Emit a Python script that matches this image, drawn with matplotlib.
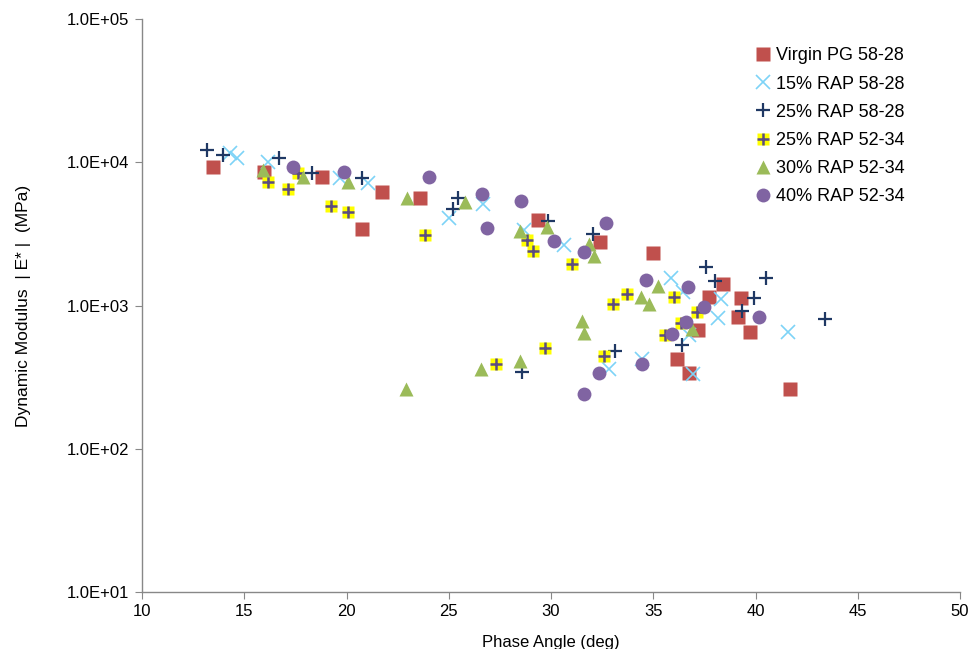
import matplotlib
matplotlib.use("Agg")
import matplotlib.pyplot as plt
from matplotlib.ticker import FixedLocator, FuncFormatter
import numpy as np

plt.rcParams['font.family'] = ['Liberation Sans', 'DejaVu Sans']

# phase angle (deg) and dynamic modulus |E*| (MPa) for each mix
virgin_x = [13.47, 15.97, 18.80, 21.74, 23.59, 20.76, 29.36, 32.40, 34.99,
            38.41, 37.73, 39.29, 39.14, 39.73, 37.19, 36.16, 36.75, 41.69]
virgin_y = [9270, 8550, 7890, 6200, 5630, 3420, 3950, 2775, 2326,
            1413, 1146, 1128, 831, 653, 674, 423, 338, 261]

rap15_x = [14.30, 14.65, 16.16, 19.68, 21.05, 25.01, 26.67, 28.68, 30.64,
           35.87, 36.45, 38.31, 38.17, 36.75, 32.84, 34.45, 36.94, 41.59]
rap15_y = [11600, 10700, 10040, 7760, 7160, 4080, 5110, 3365, 2645,
           1556, 1243, 1110, 818, 622, 360, 423, 333, 653]

rap25a_x = [13.18, 13.96, 16.70, 18.31, 20.76, 25.45, 25.21, 29.85, 32.05,
            33.13, 28.58, 36.41, 37.58, 38.02, 40.51, 39.93, 39.34, 43.40]
rap25a_y = [12180, 11240, 10700, 8410, 7760, 5630, 4716, 3890, 3157,
            481, 343, 530, 1857, 1483, 1556, 1128, 915, 805]

rap25b_x = [16.16, 17.14, 17.63, 19.24, 20.07, 23.84, 28.83, 29.12, 31.03,
            33.72, 33.03, 36.01, 37.14, 36.36, 35.57, 29.71, 27.31, 32.59]
rap25b_y = [7280, 6506, 8410, 4950, 4495, 3105, 2866, 2402, 1949,
            1203, 1024, 1146, 901, 755, 622, 505, 391, 444]

rap30_x = [15.92, 17.87, 20.07, 22.96, 25.79, 28.48, 29.80, 31.86, 32.10,
           35.23, 34.40, 34.79, 31.52, 31.61, 28.48, 26.58, 22.91, 36.89]
rap30_y = [8830, 7890, 7280, 5630, 5280, 3311, 3532, 2688, 2216,
           1368, 1146, 1024, 779, 643, 410, 360, 261, 685]

rap40_x = [17.38, 19.88, 24.03, 26.63, 28.53, 26.87, 32.69, 30.15, 31.61,
           34.65, 36.70, 37.48, 36.60, 35.92, 40.17, 34.45, 32.35, 31.61]
rap40_y = [9270, 8550, 7890, 6003, 5363, 3475, 3766, 2820, 2363,
           1507, 1346, 976, 767, 632, 831, 391, 338, 241]

labels = ['Virgin PG 58-28', '15% RAP 58-28', '25% RAP 58-28',
          '25% RAP 52-34', '30% RAP 52-34', '40% RAP 52-34']

fig = plt.figure(figsize=(9.73, 6.49), dpi=100)
ax = fig.add_axes([142/973, 1-592/649, (960-142)/973, (592-19)/649])

h1, = ax.plot(virgin_x, virgin_y, 's', color='#C0504D', ms=10, mec='none', ls='none')
h2, = ax.plot(rap15_x, rap15_y, 'x', color='#7DD3F7', ms=10, mew=1.2, ls='none')
h3, = ax.plot(rap25a_x, rap25a_y, '+', color='#1F3864', ms=10, mew=1.6, ls='none')
h4a, = ax.plot(rap25b_x, rap25b_y, 's', color='#FFFF00', ms=9, mec='none', ls='none')
h4b, = ax.plot(rap25b_x, rap25b_y, '+', color='#5B4C82', ms=8.5, mew=1.8, ls='none')
h5, = ax.plot(rap30_x, rap30_y, '^', color='#9BBB59', ms=10, mec='none', ls='none')
h6, = ax.plot(rap40_x, rap40_y, 'o', color='#8064A2', ms=10, mec='none', ls='none')

ax.set_yscale('log')
ax.set_xlim(10, 50)
ax.set_ylim(10, 1e5)
ax.xaxis.set_major_locator(FixedLocator(np.arange(10, 51, 5)))
ax.yaxis.set_major_locator(FixedLocator([1e1, 1e2, 1e3, 1e4, 1e5]))
ax.yaxis.set_minor_locator(FixedLocator([]))
ax.yaxis.set_major_formatter(FuncFormatter(lambda v, p: '1.0E+%02d' % int(round(np.log10(v)))))

for side in ['top', 'right']:
    ax.spines[side].set_visible(False)
for side in ['left', 'bottom']:
    ax.spines[side].set_color('#888888')
    ax.spines[side].set_linewidth(1)
ax.tick_params(axis='both', direction='out', length=5, color='#888888',
               labelsize=12, pad=4)

ax.set_xlabel('Phase Angle (deg)', fontsize=12, labelpad=11)
ax.set_ylabel('Dynamic Modulus  | E* |  (MPa)', fontsize=12.5, labelpad=26)

ax.legend([h1, h2, h3, (h4a, h4b), h5, h6], labels, loc='upper right',
          bbox_to_anchor=(0.941, 0.963), frameon=False, fontsize=13,
          handlelength=0.8, handletextpad=0.3, labelspacing=0.62,
          borderaxespad=0)

fig.savefig('out.png', dpi=100)
